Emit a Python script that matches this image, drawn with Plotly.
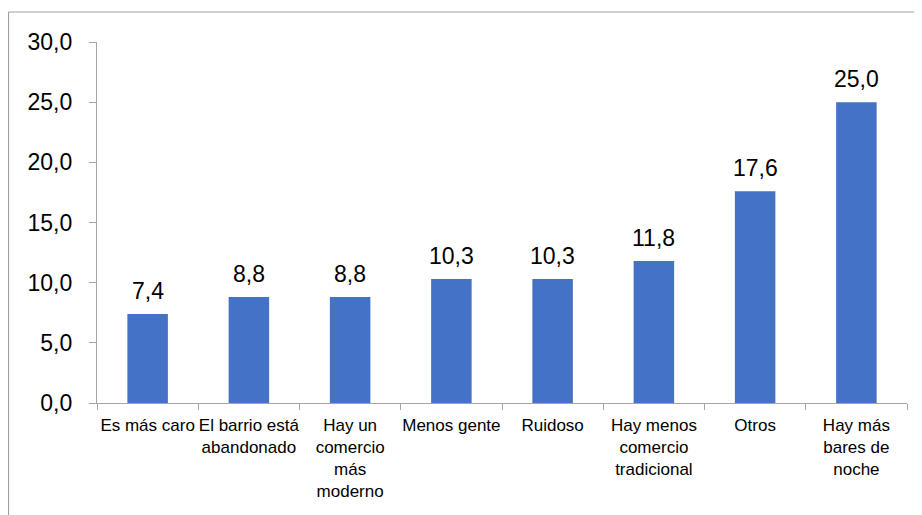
import plotly.graph_objects as go

categories = ["Es más caro", "El barrio está<br>abandonado", "Hay un<br>comercio<br>más<br>moderno",
              "Menos gente", "Ruidoso", "Hay menos<br>comercio<br>tradicional", "Otros",
              "Hay más<br>bares de<br>noche"]
values = [7.4, 8.8, 8.8, 10.3, 10.3, 11.8, 17.6, 25.0]
y_ticks = [0, 5, 10, 15, 20, 25, 30]

FONT = "Liberation Sans"
W, H = 922, 515
ml, mr, mt, mb = 89, 23, 34, 120
pw, ph = W - ml - mr, H - mt - mb

fig = go.Figure(go.Bar(x=categories, y=values, marker=dict(color="#4472C4", line=dict(width=0)),
                       width=0.4, cliponaxis=False))

for c, v in zip(categories, values):
    fig.add_annotation(x=c, y=v, text=f"{v:.1f}".replace(".", ","), showarrow=False,
                       yanchor="bottom", yshift=8, font=dict(family=FONT, size=23, color="#000000"))

# chart-area border (left and top edges visible)
bx = (0.5 - ml) / pw
by = 1 + (mt - 4) / ph
fig.add_shape(type="line", xref="paper", yref="paper", x0=bx, x1=bx,
              y0=-0.5, y1=by, line=dict(color="#A0A0A0", width=1.2))
fig.add_shape(type="line", xref="paper", yref="paper", x0=bx, x1=1.5,
              y0=by, y1=by, line=dict(color="#A0A0A0", width=1.2))

fig.update_layout(
    width=W, height=H, margin=dict(l=ml, r=mr, t=mt, b=mb),
    plot_bgcolor="white", paper_bgcolor="white", separators=",.",
    showlegend=False, bargap=0.6,
    xaxis=dict(type="category", showline=True, linecolor="#A6A6A6", linewidth=1.2,
               ticks="outside", tickson="boundaries", ticklen=6, tickcolor="#A6A6A6",
               tickfont=dict(family=FONT, size=17, color="#000000"), showgrid=False,
               tickangle=0, ticklabelstandoff=6),
    yaxis=dict(range=[0, 30], tickvals=y_ticks, tickformat=".1f", showline=True,
               linecolor="#A6A6A6", linewidth=1.2, ticks="outside", ticklen=7,
               tickcolor="#A6A6A6", showgrid=False, zeroline=False,
               tickfont=dict(family=FONT, size=23, color="#000000"), ticklabelstandoff=12),
)
fig.update_shapes(layer="above")
fig.write_html("out.html")
